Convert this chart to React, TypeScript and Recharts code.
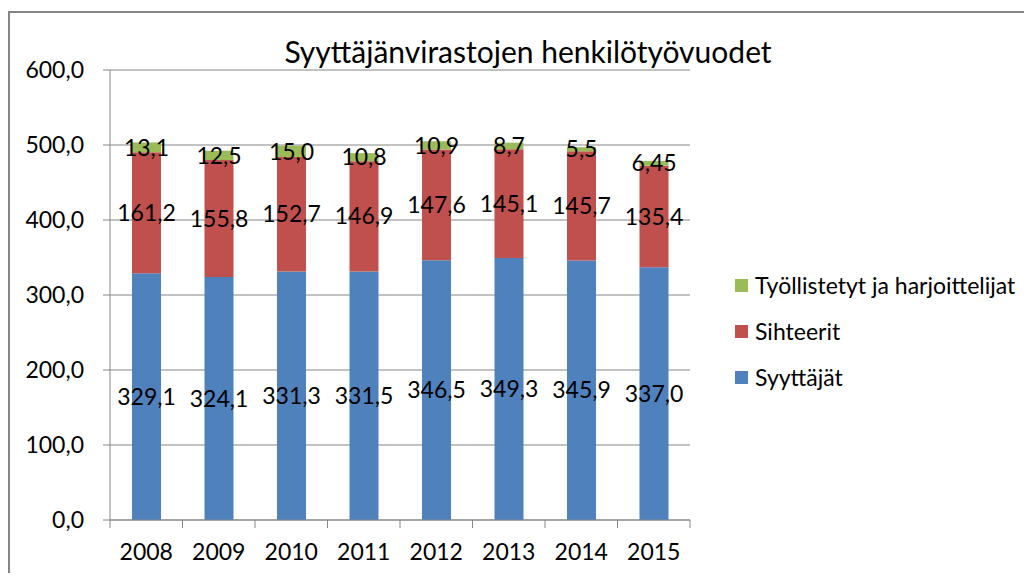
import React from 'react';
import { BarChart, Bar, XAxis, YAxis, CartesianGrid, LabelList } from 'recharts';

const years = ['2008', '2009', '2010', '2011', '2012', '2013', '2014', '2015'];
const syyttajat = [329.1, 324.1, 331.3, 331.5, 346.5, 349.3, 345.9, 337.0];
const sihteerit = [161.2, 155.8, 152.7, 146.9, 147.6, 145.1, 145.7, 135.4];
const tyollistetyt = [13.1, 12.5, 15.0, 10.8, 10.9, 8.7, 5.5, 6.45];
const yTicks = [0, 100, 200, 300, 400, 500, 600];

const seriesNames = ['Syyttäjät', 'Sihteerit', 'Työllistetyt ja harjoittelijat'];
const colors = ['#4F81BD', '#C0504D', '#9BBB59'];

const data = years.map((y, i) => ({
  year: y,
  s1: syyttajat[i],
  s2: sihteerit[i],
  s3: tyollistetyt[i],
}));

const FONT = 'Lato, "Open Sans", sans-serif';
const TICK_SIZE = 8;
const TICK_MARGIN = 2;

const fmt = (v: any) => {
  const n = Number(v);
  const one = Math.abs(n * 10 - Math.round(n * 10)) < 1e-6;
  return (one ? n.toFixed(1) : n.toFixed(2)).replace('.', ',');
};

const CatTick = (props: any) => {
  const { x, y, payload, index, visibleTicksCount } = props;
  const half = payload && typeof payload.offset === 'number' && payload.offset > 0 ? payload.offset : 0;
  const axisY = y - TICK_SIZE - TICK_MARGIN;
  const last = index === (visibleTicksCount ?? years.length) - 1;
  return (
    <g>
      <line x1={x - half} x2={x - half} y1={axisY} y2={axisY + TICK_SIZE} stroke="#868686" />
      {last && <line x1={x + half} x2={x + half} y1={axisY} y2={axisY + TICK_SIZE} stroke="#868686" />}
      <text x={x} y={y} dy={30} textAnchor="middle" fill="#000" fontSize={23} fontFamily={FONT}>
        {payload.value}
      </text>
    </g>
  );
};

const LegendBox = () => {
  const order = [2, 1, 0];
  return (
    <div style={{ position: 'absolute', left: 727, top: 254, fontFamily: FONT, fontSize: 23, color: '#000' }}>
      {order.map((k) => (
        <div key={k} style={{ display: 'flex', alignItems: 'center', height: 46, whiteSpace: 'nowrap' }}>
          <span style={{ display: 'inline-block', width: 13, height: 13, background: colors[k], marginRight: 7 }} />
          <span>{seriesNames[k]}</span>
        </div>
      ))}
    </div>
  );
};

export default function App() {
  return (
    <div style={{ position: 'relative', width: 1016, height: 565, overflow: 'hidden', background: '#fff' }}>
      <div style={{ position: 'absolute', left: 0, top: 3, width: 2000, height: 2000, borderTop: '2px solid #868686', borderLeft: '2px solid #868686' }} />
      <div
        style={{
          position: 'absolute',
          left: 0,
          width: 1040,
          top: 24,
          textAlign: 'center',
          fontFamily: FONT,
          fontSize: 30,
          color: '#000',
          lineHeight: '38px',
          whiteSpace: 'nowrap',
        }}
      >
        Syyttäjänvirastojen henkilötyövuodet
      </div>
      <div style={{ position: 'absolute', left: 0, top: 0 }}>
        <BarChart
          width={1016}
          height={565}
          data={data}
          barSize={29}
          margin={{ top: 62, right: 334, left: 22, bottom: 13 }}
        >
          <CartesianGrid vertical={false} stroke="#868686" strokeWidth={1} />
          <XAxis
            dataKey="year"
            height={40}
            stroke="#868686"
            tickLine={false}
            tickSize={TICK_SIZE}
            tickMargin={TICK_MARGIN}
            tick={<CatTick />}
            interval={0}
          />
          <YAxis
            width={80}
            domain={[0, 600]}
            ticks={yTicks}
            stroke="#868686"
            tickSize={7}
            tickFormatter={(v) => Number(v).toFixed(1).replace('.', ',')}
            tick={{ fill: '#000', fontSize: 23, fontFamily: FONT, dx: -17 }}
            tickLine={{ stroke: '#868686' }}
          />
          <Bar dataKey="s1" stackId="a" fill={colors[0]} isAnimationActive={false}>
            <LabelList dataKey="s1" position="center" formatter={fmt} fill="#000" fontSize={23} fontFamily={FONT} />
          </Bar>
          <Bar dataKey="s2" stackId="a" fill={colors[1]} isAnimationActive={false}>
            <LabelList dataKey="s2" position="center" formatter={fmt} fill="#000" fontSize={23} fontFamily={FONT} />
          </Bar>
          <Bar dataKey="s3" stackId="a" fill={colors[2]} isAnimationActive={false}>
            <LabelList dataKey="s3" position="center" formatter={fmt} fill="#000" fontSize={23} fontFamily={FONT} />
          </Bar>
        </BarChart>
      </div>
      <LegendBox />
    </div>
  );
}
